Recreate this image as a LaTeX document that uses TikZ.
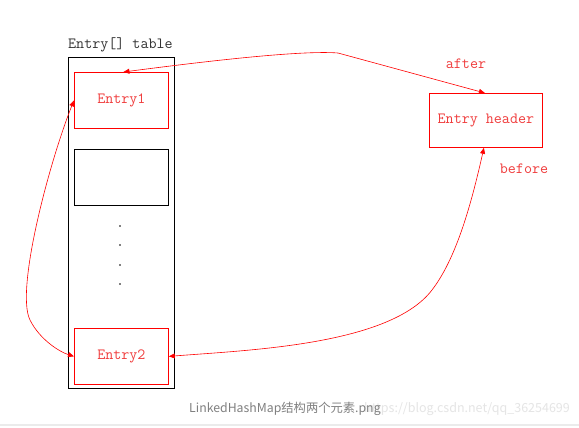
\documentclass[tikz,border=0pt]{standalone}
\usepackage{fontspec}
\newfontfamily\capfont{Noto Sans CJK SC}
\usetikzlibrary{arrows.meta}
\definecolor{txtred}{RGB}{240,60,60}
\begin{document}
\begin{tikzpicture}[x=1pt,y=-1pt,
  tfont/.style={font=\ttfamily\fontsize{15.6}{17}\selectfont},
  box/.style={draw=red, line width=0.8pt, minimum width=94pt, minimum height=56pt, inner sep=0pt, text=txtred, tfont},
  link/.style={draw=red, line width=0.6pt, {Triangle[length=6pt,width=5pt]}-{Triangle[length=6pt,width=5pt]}},
  lbl/.style={text=txtred, tfont, inner sep=0pt}]
\useasboundingbox[fill=white] (0,0) rectangle (579,428);
% table
\node[draw=black, line width=0.6pt, minimum width=106pt, minimum height=331pt, inner sep=0pt, anchor=north west] (table) at (68,57) {};
\node[anchor=base west, inner sep=0pt, tfont, text=black!80] (tlabel) at (68,49) {Entry[] table};
\node[box, anchor=north west] (e1) at (74,72) {Entry1};
\node[box, draw=black, anchor=north west] (blank) at (74,149) {};
\node[box, anchor=north west] (e2) at (74,328) {Entry2};
\foreach \yy [count=\i] in {226,245,265,284} \node[circle, fill=black, inner sep=0pt, minimum size=1.6pt] (d\i) at (120,\yy) {};
\node[box, minimum width=113pt, minimum height=54pt, anchor=north west] (hdr) at (429,93) {Entry header};
\node[lbl] (after) at (466,64) {after};
\node[lbl] (before) at (524,169) {before};
\coordinate (k1) at (338,53);
\coordinate (k2) at (432,290);
% links
\draw[link] ([xshift=2pt]e1.north) .. controls (200,62) and (300,50) .. (k1) -- ([xshift=-1pt]hdr.north);
\draw[link] (e1.west) .. controls (50,160) and (15,290) .. (30,320) .. controls (40,340) and (60,352) .. (e2.west);
\draw[link] ([xshift=-2pt]hdr.south) .. controls (470,210) and (455,260) .. (k2) .. controls (390,345) and (250,350) .. (e2.east);
% caption
\draw[black!8, line width=1.5pt] (0,425) -- (579,425);
\node[anchor=east, inner sep=0pt, text=black!10, font=\capfont\fontsize{12.5}{14}\selectfont] (wm) at (570,409) {https://blog.csdn.net/qq\_36254699};
\node[anchor=west, inner sep=0pt, text=black!50, font=\capfont\fontsize{12.3}{14}\selectfont] (cap) at (189,409) {LinkedHashMap结构两个元素.png};
\end{tikzpicture}
\end{document}
